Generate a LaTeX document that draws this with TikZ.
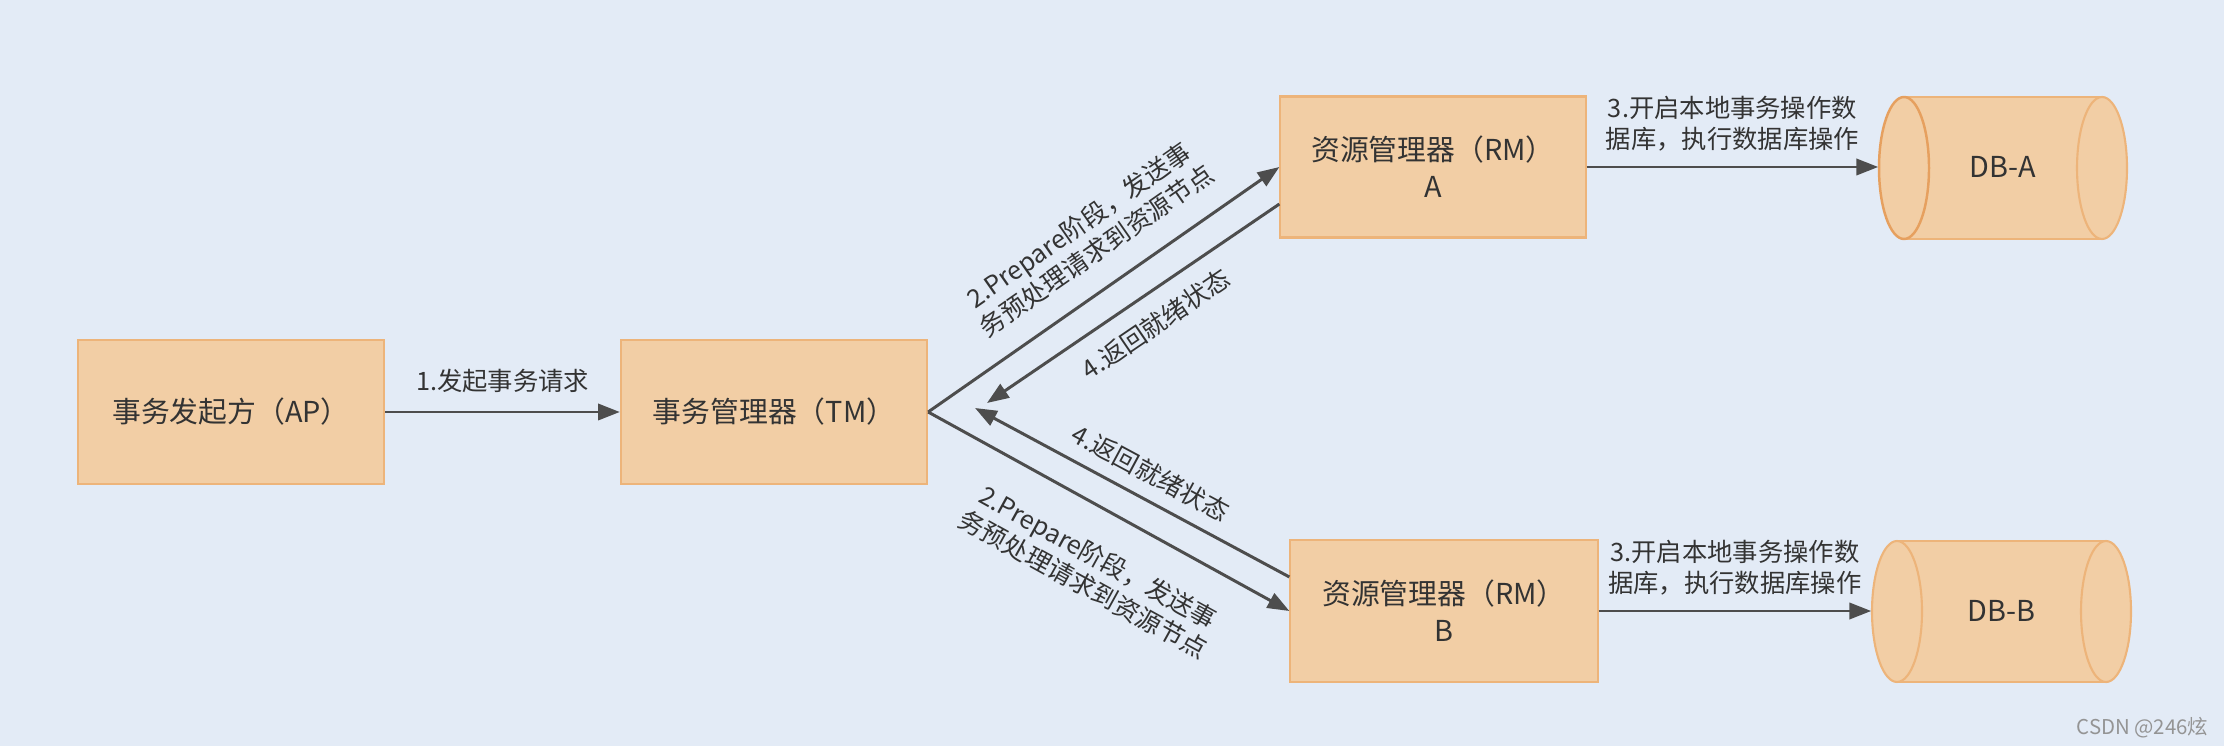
\documentclass[tikz,border=0pt]{standalone}
\usepackage{fontspec}
\setmainfont{Noto Sans CJK SC}
\usetikzlibrary{arrows.meta, positioning}
\definecolor{bgblue}{RGB}{227,235,246}
\definecolor{boxfill}{RGB}{242,206,165}
\definecolor{boxline}{RGB}{237,180,122}
\definecolor{dbline}{RGB}{230,160,95}
\definecolor{arrowgray}{RGB}{77,77,77}
\definecolor{textgray}{RGB}{51,51,51}

\begin{document}
\begin{tikzpicture}[x=0.01cm, y=-0.01cm,
    box/.style={draw=boxline, fill=boxfill, line width=0.6pt, minimum width=3.06cm, minimum height=1.44cm,
        inner sep=0pt, align=center, text=textgray, font=\fontsize{8.2pt}{10.5pt}\selectfont},
    dbtext/.style={inner sep=0pt, text=textgray, font=\fontsize{8.2pt}{10.5pt}\selectfont},
    flow/.style={draw=arrowgray, line width=0.85pt, -{Triangle[length=6.2pt, width=4.6pt]}},
    lbl/.style={inner sep=0pt, align=center, text=textgray, font=\fontsize{7.2pt}{8.8pt}\selectfont}]
    \fill[bgblue] (0,0) rectangle (2224,746);
    \useasboundingbox (0,0) rectangle (2224,746);
    % boxes
    \node[box] (ap) at (231,412) {事务发起方（AP）};
    \node[box] (tm) at (774,412) {事务管理器（TM）};
    \node[box, minimum width=3.05cm, minimum height=1.41cm] (rma) at (1433,167) {资源管理器（RM）\\A};
    \node[box, minimum width=3.07cm, minimum height=1.42cm] (rmb) at (1444,611) {资源管理器（RM）\\B};
    % databases
    \fill[boxfill] (1904,97) rectangle (2102,239);
    \draw[boxline, line width=0.6pt] (1904,97) -- (2102,97) (1904,239) -- (2102,239);
    \filldraw[fill=boxfill, draw=boxline, line width=0.6pt] (2102,168) ellipse [x radius=25, y radius=71];
    \filldraw[fill=boxfill, draw=dbline, line width=0.7pt] (1904,168) ellipse [x radius=25, y radius=71];
    \node[dbtext, minimum width=2.48cm, minimum height=1.42cm] (dba) at (2003,167) {DB-A};
    \fill[boxfill] (1897,541) rectangle (2106,682);
    \draw[boxline, line width=0.6pt] (1897,541) -- (2106,541) (1897,682) -- (2106,682);
    \filldraw[fill=boxfill, draw=boxline, line width=0.6pt] (2106,611.5) ellipse [x radius=25, y radius=70.5];
    \filldraw[fill=boxfill, draw=boxline, line width=0.6pt] (1897,611.5) ellipse [x radius=25, y radius=70.5];
    \node[dbtext, minimum width=2.59cm, minimum height=1.41cm] (dbb) at (2001.5,611) {DB-B};
    % free ends of the answers
    \coordinate (backa) at (987,403);
    \coordinate (backb) at (975,408);
    % connectors
    \draw[flow] (ap) -- node[lbl, above=0.18cm] {1.发起事务请求} (tm);
    \draw[flow] (tm.east) -- node[lbl, sloped, pos=0.538, above=0.23cm] {2.Prepare阶段，发送事\\务预处理请求到资源节点} (rma.west);
    \draw[flow] (tm.east) -- node[lbl, sloped, pos=0.531, below=0.32cm] {2.Prepare阶段，发送事\\务预处理请求到资源节点} (rmb.west);
    \draw[flow] (rma.east) -- node[lbl, above=0.145cm] {3.开启本地事务操作数\\据库，执行数据库操作} (dba.west);
    \draw[flow] (rmb.east) -- node[lbl, above=0.145cm] {3.开启本地事务操作数\\据库，执行数据库操作} (dbb.west);
    \draw[flow] ([yshift=-0.37cm]rma.west) -- node[lbl, sloped, pos=0.48, below=0.165cm] {4.返回就绪状态} (backa);
    \draw[flow] ([yshift=0.34cm]rmb.west) -- node[lbl, sloped, pos=0.48, above=0.127cm] {4.返回就绪状态} (backb);
    % watermark
    \node[anchor=east, inner sep=0pt, text=black!42, font=\fontsize{5.8pt}{7pt}\selectfont] (mark) at (2209,728) {CSDN @246炫};
\end{tikzpicture}
\end{document}
